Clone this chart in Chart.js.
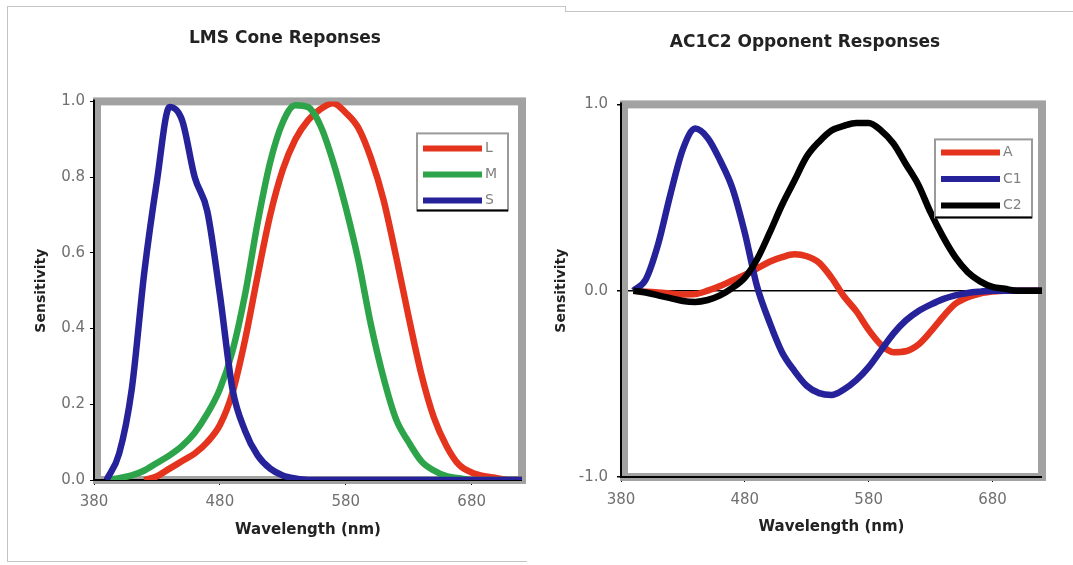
<!DOCTYPE html>
<html>
<head>
<meta charset="utf-8">
<script src="https://cdn.jsdelivr.net/npm/chart.js@4.4.0/dist/chart.umd.min.js"></script>
<style>
body{margin:0;background:#fff;width:1073px;height:565px;overflow:hidden;position:relative}
canvas{position:absolute;top:0}
#lms{left:0}
#opp{left:540px}
.ln{position:absolute;background:#c4c4c4}
</style>
</head>
<body>
<div class="ln" style="left:7px;top:6px;width:558px;height:1px"></div>
<div class="ln" style="left:7px;top:6px;width:1px;height:556px"></div>
<div class="ln" style="left:7px;top:561px;width:520px;height:1px"></div>
<div class="ln" style="left:565px;top:6px;width:1px;height:5px"></div>
<div class="ln" style="left:565px;top:11px;width:508px;height:1px"></div>
<canvas id="lms" width="570" height="565"></canvas>
<canvas id="opp" width="530" height="565"></canvas>
<script>
// wavelength samples (nm)
const wavelengths = [390,400,410,420,430,440,450,460,470,480,490,500,510,520,530,540,550,
  560,570,580,590,600,610,620,630,640,650,660,670,680,690,700,710,720];
const xTicks = [380, 480, 580, 680];

// LMS cone responses
const coneL = [null,null,null,0,0.01,0.03,0.05,0.07,0.10,0.145,0.23,0.37,0.54,0.70,0.82,0.90,0.95,
  0.98,0.995,0.97,0.93,0.85,0.74,0.59,0.43,0.28,0.165,0.09,0.04,0.02,0.01,0.005,0,0];
const coneM = [0,0.005,0.012,0.025,0.045,0.065,0.09,0.125,0.175,0.24,0.34,0.49,0.68,0.84,0.945,0.99,0.985,
  0.935,0.84,0.72,0.58,0.41,0.27,0.16,0.10,0.05,0.025,0.01,0.005,0,0,0,0,0];
const coneS = [0,0.07,0.24,0.55,0.79,0.985,0.95,0.80,0.71,0.49,0.24,0.13,0.065,0.03,0.012,0.004,0,
  0,0,0,0,0,0,0,0,0,0,0,0,0,0,0,0,0];

// AC1C2 opponent responses
const oppA = [0,-0.005,-0.01,-0.015,-0.02,-0.018,0,0.025,0.055,0.085,0.12,0.155,0.18,0.195,0.185,0.15,0.07,
  -0.03,-0.11,-0.21,-0.29,-0.33,-0.325,-0.29,-0.22,-0.14,-0.07,-0.035,-0.015,-0.005,0,0,0,0];
const oppC1 = [0,0.06,0.25,0.52,0.76,0.87,0.82,0.70,0.55,0.31,0.02,-0.17,-0.33,-0.43,-0.51,-0.55,-0.56,
  -0.53,-0.48,-0.41,-0.32,-0.23,-0.16,-0.11,-0.075,-0.045,-0.025,-0.012,-0.005,0,0,0,0,0];
const oppC2 = [0,-0.01,-0.025,-0.04,-0.055,-0.06,-0.05,-0.025,0.015,0.07,0.17,0.31,0.46,0.59,0.72,0.80,0.86,
  0.885,0.9,0.9,0.86,0.79,0.68,0.57,0.42,0.29,0.18,0.10,0.05,0.02,0.01,0,0,0];

const RED = '#e5341d', GREEN = '#2ea44a', BLUE = '#26229a', BLACK = '#000';

Chart.defaults.font.family = "'DejaVu Sans', sans-serif";

function pts(vals){
  return wavelengths.map((w, i) => ({x: w, y: vals[i]})).filter(p => p.y !== null);
}

function line(label, vals, color, order){
  return {
    label: label, data: pts(vals), borderColor: color, backgroundColor: color,
    borderWidth: 6.5, pointRadius: 0, fill: false, order: order,
    cubicInterpolationMode: 'monotone'
  };
}

// gray frame round the plot, black axis lines on left and bottom
const frame = {
  id: 'frame',
  beforeDatasetsDraw(chart){
    const {ctx, chartArea: a} = chart;
    ctx.save();
    ctx.strokeStyle = '#a2a2a2';
    ctx.lineWidth = 8;
    ctx.strokeRect(a.left + 3, a.top, a.right - a.left - 3, a.bottom - a.top);
    ctx.strokeStyle = '#000';
    ctx.lineWidth = 2;
    ctx.beginPath();
    ctx.moveTo(a.left, a.top - 2);
    ctx.lineTo(a.left, a.bottom);
    ctx.lineTo(a.right, a.bottom);
    ctx.stroke();
    ctx.restore();
  }
};

// legend box drawn inside the plot
const boxLegend = {
  id: 'boxLegend',
  afterDatasetsDraw(chart, args, o){
    const {ctx, chartArea: a} = chart;
    const x = a.right - o.right - o.w, y = a.top + o.top;
    ctx.save();
    ctx.fillStyle = '#fff';
    ctx.fillRect(x, y, o.w, o.h);
    ctx.strokeStyle = '#9a9a9a';
    ctx.lineWidth = 2;
    ctx.strokeRect(x, y, o.w, o.h);
    ctx.strokeStyle = '#000';
    ctx.beginPath();
    ctx.moveTo(x, y + o.h);
    ctx.lineTo(x + o.w, y + o.h);
    ctx.stroke();
    ctx.font = "14px 'DejaVu Sans'";
    ctx.textBaseline = 'middle';
    chart.data.datasets.forEach((ds, i) => {
      const ly = y + o.first + i * o.gap;
      ctx.strokeStyle = ds.borderColor;
      ctx.lineWidth = 6;
      ctx.beginPath();
      ctx.moveTo(x + 6, ly);
      ctx.lineTo(x + 65, ly);
      ctx.stroke();
      ctx.fillStyle = '#808080';
      ctx.fillText(ds.label, x + 68, ly);
    });
    ctx.restore();
  }
};

function options(o){
  return {
    responsive: false,
    animation: false,
    layout: {padding: 0},
    plugins: {
      legend: {display: false},
      tooltip: {enabled: false},
      title: {
        display: true, text: o.title, color: '#222',
        font: {size: 17, weight: 'bold'},
        padding: {top: o.titleTop, bottom: o.titleBottom}
      },
      boxLegend: o.legend
    },
    scales: {
      x: {
        type: 'linear', min: 380, max: 720,
        afterBuildTicks: s => { s.ticks = xTicks.map(v => ({value: v})); },
        afterFit: s => { s.height = o.xHeight; },
        ticks: {color: '#707070', font: {size: 15}, padding: o.xTickPad, maxRotation: 0},
        grid: {drawOnChartArea: false, tickLength: 5, tickColor: '#000', color: '#000'},
        border: {display: false},
        title: {display: true, text: 'Wavelength (nm)', color: '#222',
          font: {size: 15, weight: 'bold'}, padding: {top: 0, bottom: o.xTitleBottom}}
      },
      y: {
        min: o.yMin, max: 1,
        afterFit: s => { s.width = o.yWidth; },
        ticks: {stepSize: o.yStep, color: '#707070', font: {size: 15}, padding: o.yTickPad,
          callback: v => v.toFixed(1)},
        grid: o.yGrid,
        border: {display: false},
        title: {display: true, text: 'Sensitivity', color: '#222',
          font: {size: 14, weight: 'bold'}, padding: {top: o.yTitleTop, bottom: 0}}
      },
      // empty right-hand margin, keeps the title centred on the whole panel
      margin: {
        position: 'right', min: 0, max: 1,
        afterFit: s => { s.width = o.rightMargin; },
        ticks: {display: false},
        grid: {display: false},
        border: {display: false}
      }
    }
  };
}

new Chart(document.getElementById('lms'), {
  type: 'line',
  data: {datasets: [
    line('L', coneL, RED, 3),
    line('M', coneM, GREEN, 2),
    line('S', coneS, BLUE, 1)
  ]},
  options: options({
    title: 'LMS Cone Reponses', titleTop: 28, titleBottom: 53,
    rightMargin: 48, xHeight: 85, xTickPad: 8, xTitleBottom: 26,
    yMin: 0, yStep: 0.2, yWidth: 94, yTickPad: 5, yTitleTop: 33,
    yGrid: {drawOnChartArea: false, tickLength: 4, tickColor: '#000', color: '#000'},
    legend: {right: 14, top: 32, w: 91, h: 77, first: 15, gap: 26}
  }),
  plugins: [frame, boxLegend]
});

new Chart(document.getElementById('opp'), {
  type: 'line',
  data: {datasets: [
    line('A', oppA, RED, 3),
    line('C1', oppC1, BLUE, 2),
    line('C2', oppC2, BLACK, 1)
  ]},
  options: options({
    title: 'AC1C2 Opponent Responses', titleTop: 32, titleBottom: 52,
    rightMargin: 28, xHeight: 88, xTickPad: 9, xTitleBottom: 29,
    yMin: -1, yStep: 1, yWidth: 81, yTickPad: 9, yTitleTop: 13,
    yGrid: {drawOnChartArea: true, tickLength: 4, tickColor: '#000', lineWidth: 1.5,
      color: c => (c.tick && c.tick.value === 0) ? '#000' : 'rgba(0,0,0,0)'},
    legend: {right: 10, top: 35, w: 97, h: 78, first: 13, gap: 26.5}
  }),
  plugins: [frame, boxLegend]
});
</script>
</body>
</html>
